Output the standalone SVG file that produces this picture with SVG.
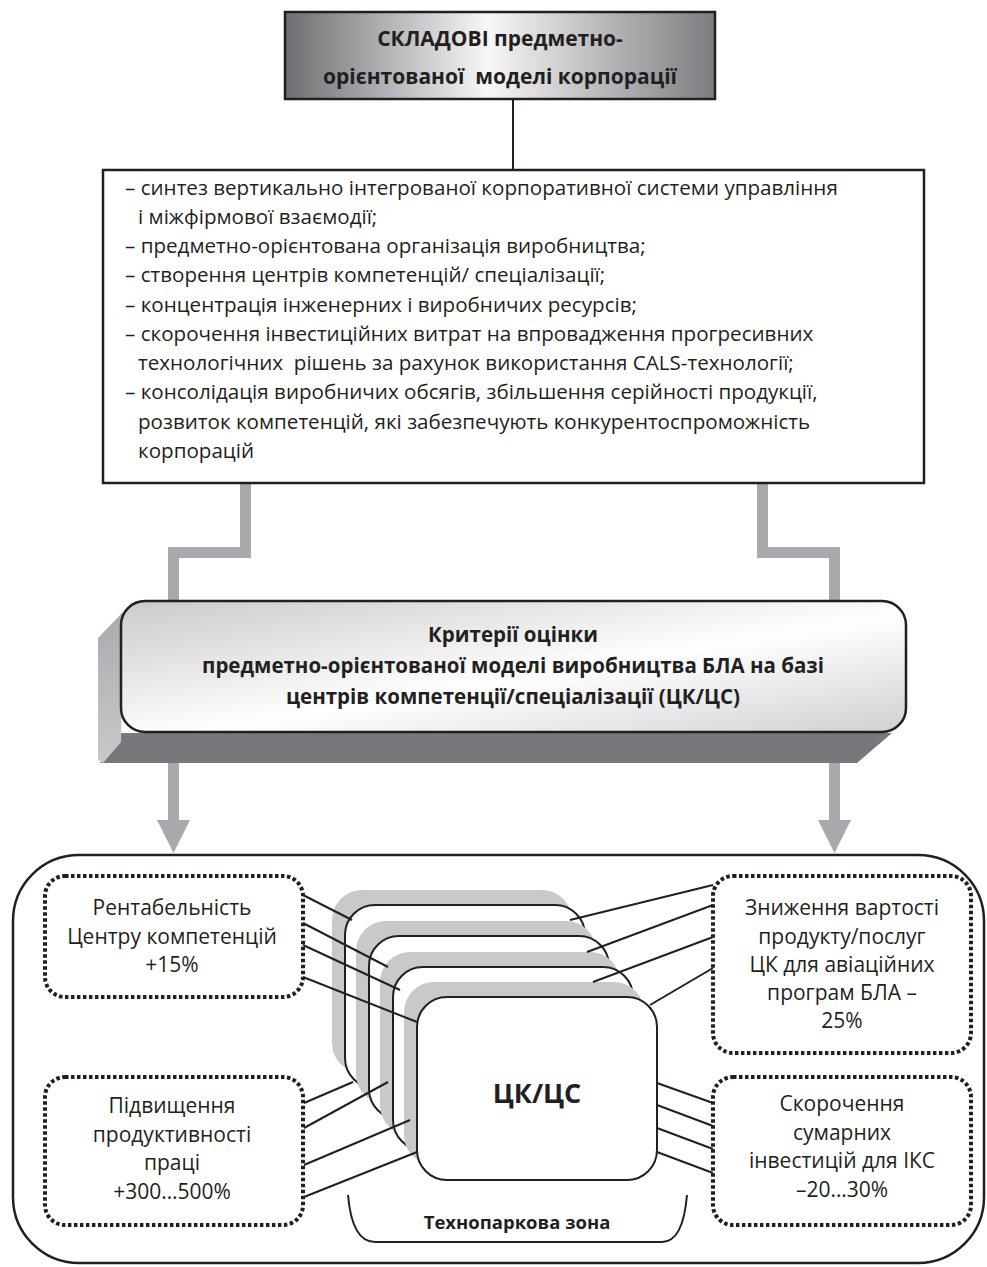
<svg xmlns="http://www.w3.org/2000/svg" width="987" height="1267" viewBox="0 0 987 1267">
<defs>
  <linearGradient id="gTop" x1="0" y1="0" x2="1" y2="0">
    <stop offset="0" stop-color="#6d6e71"/>
    <stop offset="0.47" stop-color="#f7f7f7"/>
    <stop offset="1" stop-color="#7c7d80"/>
  </linearGradient>
  <linearGradient id="gCrit" x1="0" y1="0" x2="1" y2="1">
    <stop offset="0" stop-color="#c9cacc"/>
    <stop offset="0.55" stop-color="#ffffff"/>
    <stop offset="1" stop-color="#cfd0d2"/>
  </linearGradient>
  <linearGradient id="gSide" x1="0" y1="0" x2="0" y2="1">
    <stop offset="0" stop-color="#a9abae"/>
    <stop offset="1" stop-color="#c8c9cb"/>
  </linearGradient>
</defs>
<style>
  text { font-family: "Open Sans", "Liberation Sans", sans-serif; fill: #231f20; white-space: pre; }
  .b { font-weight: 700; }
  .title { font-size: 21px; font-weight: 700; text-anchor: middle; }
  .list { font-size: 20.6px; }
  .crit { font-size: 20.5px; font-weight: 700; text-anchor: middle; }
  .lbl { font-size: 21px; text-anchor: middle; }
  .dot { fill: #fff; stroke: #231f20; stroke-width: 4; stroke-dasharray: 3.5 2.5; }
  .card { fill: #fff; stroke: #231f20; stroke-width: 2; }
  .shadow { fill: #c8c9cb; }
  .thin { stroke: #231f20; stroke-width: 2; fill: none; }
  .grey { stroke: #a7a9ac; stroke-width: 11; fill: none; }
  .box { stroke: #231f20; stroke-width: 2.5; }
</style>

<!-- connectors (grey) drawn beneath -->
<g id="connectors">
  <line class="thin" x1="513" y1="99" x2="513" y2="170"/>
  <path class="grey" d="M245.5,483 V552.5 H173.5 V822"/>
  <polygon points="157,820 190,820 173.5,853" fill="#a7a9ac"/>
  <path class="grey" d="M762.5,483 V552.5 H834.5 V822"/>
  <polygon points="818,820 851,820 834.5,853" fill="#a7a9ac"/>
</g>

<g id="top">
  <rect class="box" x="285" y="12" width="430" height="87" fill="url(#gTop)"/>
  <text class="title" x="500" y="46">СКЛАДОВІ предметно-</text>
  <text class="title" x="500" y="84">орієнтованої  моделі корпорації</text>
</g>

<g id="components">
  <rect class="box" x="103" y="170" width="821" height="313" fill="#fff"/>
  <text class="list" x="125" y="195">– синтез вертикально інтегрованої корпоративної системи управління</text>
  <text class="list" x="138" y="224">і міжфірмової взаємодії;</text>
  <text class="list" x="125" y="253">– предметно-орієнтована організація виробництва;</text>
  <text class="list" x="125" y="282">– створення центрів компетенцій/ спеціалізації;</text>
  <text class="list" x="125" y="312">– концентрація інженерних і виробничих ресурсів;</text>
  <text class="list" x="125" y="341">– скорочення інвестиційних витрат на впровадження прогресивних</text>
  <text class="list" x="138" y="370">технологічних  рішень за рахунок використання CALS-технології;</text>
  <text class="list" x="125" y="399">– консолідація виробничих обсягів, збільшення серійності продукції,</text>
  <text class="list" x="138" y="429">розвиток компетенцій, які забезпечують конкурентоспроможність</text>
  <text class="list" x="138" y="458">корпорацій</text>
</g>

<g id="criteria">
  <polygon points="121,733 892,733 857,763 100,763" fill="#77787b"/>
  <polygon points="123,612 98,638 98,760 103,763 121,742" fill="url(#gSide)"/>
  <rect class="box" x="121" y="601" width="785" height="131" rx="24" fill="url(#gCrit)"/>
  <text class="crit" x="513" y="642">Критерії оцінки</text>
  <text class="crit" x="513" y="673">предметно-орієнтованої моделі виробництва БЛА на базі</text>
  <text class="crit" x="513" y="704">центрів компетенції/спеціалізації (ЦК/ЦС)</text>
</g>

<g id="zone">
  <rect class="box" x="13" y="855" width="971" height="408" rx="66" fill="#fff"/>
  <path class="thin" d="M348,1195 Q352,1242 375,1242 H662 Q683,1242 687,1195"/>
  <text class="b" x="517" y="1229" font-size="18.5" text-anchor="middle">Технопаркова зона</text>
</g>

<g id="profit">
  <rect class="dot" x="45" y="876" width="258" height="121" rx="20"/>
  <text class="lbl" x="172" y="915">Рентабельність</text>
  <text class="lbl" x="172" y="944">Центру компетенцій</text>
  <text class="lbl" x="172" y="972">+15%</text>
</g>

<g id="productivity">
  <rect class="dot" x="45" y="1077" width="258" height="148" rx="20"/>
  <text class="lbl" x="172" y="1113">Підвищення</text>
  <text class="lbl" x="172" y="1142">продуктивності</text>
  <text class="lbl" x="172" y="1170">праці</text>
  <text class="lbl" x="172" y="1199">+300…500%</text>
</g>

<g id="cost">
  <rect class="dot" x="713" y="876" width="258" height="177" rx="20"/>
  <text class="lbl" x="842" y="915">Зниження вартості</text>
  <text class="lbl" x="842" y="944">продукту/послуг</text>
  <text class="lbl" x="842" y="972">ЦК для авіаційних</text>
  <text class="lbl" x="842" y="1000">програм БЛА –</text>
  <text class="lbl" x="842" y="1028">25%</text>
</g>

<g id="invest">
  <rect class="dot" x="713" y="1077" width="258" height="148" rx="20"/>
  <text class="lbl" x="842" y="1111">Скорочення</text>
  <text class="lbl" x="842" y="1140">сумарних</text>
  <text class="lbl" x="842" y="1168">інвестицій для ІКС</text>
  <text class="lbl" x="842" y="1197">–20…30%</text>
</g>

<g id="centers">
  <rect class="shadow" x="332" y="890" width="240" height="183" rx="30"/>
  <rect class="card" x="345" y="905" width="240" height="183" rx="30"/>
  <rect class="shadow" x="356" y="921" width="240" height="183" rx="30"/>
  <rect class="card" x="369" y="936" width="240" height="183" rx="30"/>
  <rect class="shadow" x="380" y="952" width="240" height="183" rx="30"/>
  <rect class="card" x="393" y="967" width="240" height="183" rx="30"/>
  <rect class="shadow" x="404" y="982" width="240" height="183" rx="30"/>
  <rect class="card" x="417" y="997" width="240" height="183" rx="30" stroke-width="3"/>
  <text class="b" x="537" y="1103" font-size="27" text-anchor="middle">ЦК/ЦС</text>
</g>

<g id="links">
  <line class="thin" x1="303" y1="895" x2="352" y2="920"/>
  <line class="thin" x1="303" y1="923" x2="388" y2="967"/>
  <line class="thin" x1="303" y1="945" x2="400" y2="990"/>
  <line class="thin" x1="303" y1="977" x2="417" y2="1022"/>
  <line class="thin" x1="304" y1="1103" x2="353" y2="1082"/>
  <line class="thin" x1="304" y1="1128" x2="388" y2="1082"/>
  <line class="thin" x1="304" y1="1165" x2="410" y2="1120"/>
  <line class="thin" x1="304" y1="1197" x2="417" y2="1152"/>
  <line class="thin" x1="713" y1="885" x2="570" y2="920"/>
  <line class="thin" x1="713" y1="905" x2="587" y2="952"/>
  <line class="thin" x1="713" y1="937" x2="593" y2="982"/>
  <line class="thin" x1="713" y1="968" x2="650" y2="1005"/>
  <line class="thin" x1="657" y1="1083" x2="713" y2="1103"/>
  <line class="thin" x1="657" y1="1105" x2="713" y2="1126"/>
  <line class="thin" x1="657" y1="1128" x2="713" y2="1149"/>
  <line class="thin" x1="657" y1="1152" x2="713" y2="1173"/>
</g>
</svg>
